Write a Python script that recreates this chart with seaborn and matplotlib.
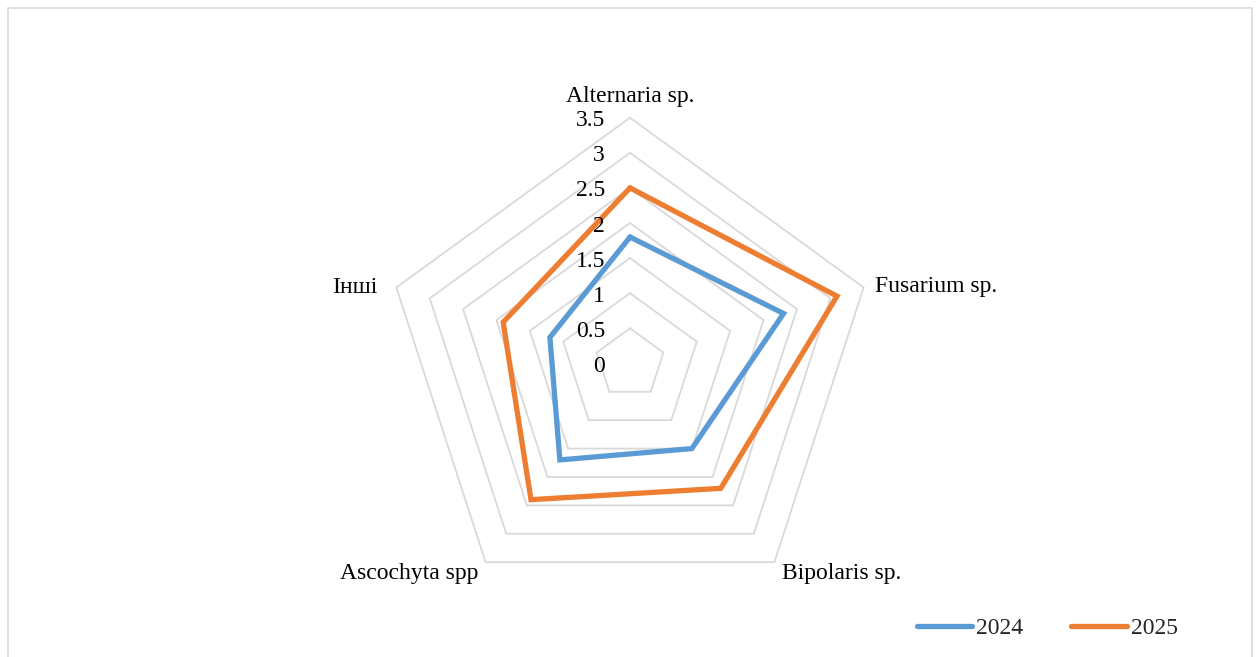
import numpy as np
import pandas as pd
import matplotlib
matplotlib.use("Agg")
import matplotlib.pyplot as plt
import matplotlib.patches as mpatches
import seaborn as sns

# data
categories = ["Alternaria sp.", "Fusarium sp.", "Bipolaris sp.", "Ascochyta spp", "Інші"]
values_2024 = [1.8, 2.3, 1.5, 1.7, 1.2]
values_2025 = [2.5, 3.1, 2.2, 2.4, 1.9]
years = ["2024", "2025"]
r_ticks = [0, 0.5, 1, 1.5, 2, 2.5, 3, 3.5]
r_tick_labels = ["0", "0.5", "1", "1.5", "2", "2.5", "3", "3.5"]

sns.set_style("white")
plt.rcParams["font.family"] = ["Liberation Serif", "DejaVu Serif"]

n = len(categories)
angles = [i * 2 * np.pi / n for i in range(n)]

# long form table, first point repeated to close each polygon
rows = []
for year, vals in zip(years, [values_2024, values_2025]):
    for a, v in zip(angles + [2 * np.pi], vals + [vals[0]]):
        rows.append({"angle": a, "value": v, "year": year})
df = pd.DataFrame(rows)

fig = plt.figure(figsize=(12.56, 6.57), dpi=100)
ax = fig.add_axes([0.306, 0.0729, 0.3912, 0.748], projection="polar")
ax.set_theta_offset(np.pi / 2)
ax.set_theta_direction(-1)
ax.set_ylim(0, 3.5)
ax.grid(False)
ax.set_xticks([])
ax.set_yticks([])
ax.spines["polar"].set_visible(False)
ax.patch.set_alpha(0)

# pentagon grid
for r in r_ticks[1:]:
    ax.plot(angles + [angles[0]], [r] * (n + 1), color="#D9D9D9",
            linewidth=1.3, clip_on=False, zorder=1)

palette = {"2024": "#5B9BD5", "2025": "#ED7D31"}
sns.lineplot(data=df, x="angle", y="value", hue="year", palette=palette,
             sort=False, linewidth=3.8, ax=ax, clip_on=False, zorder=3,
             estimator=None)
for line in ax.lines:
    line.set_solid_joinstyle("miter")

ax.set_xlabel("")
ax.set_ylabel("")

px = 72 / 100  # pixels -> points
fs = 17

# radial labels along the top spoke
for r, lab in zip(r_ticks, r_tick_labels):
    ax.annotate(lab, xy=(0, r), xytext=(-25 * px, -3 * px), textcoords="offset points",
                ha="right", va="center", fontsize=fs, color="#000000")

# category labels
label_pos = [
    ((0, 16), "center", "baseline"),
    ((11, -5), "left", "baseline"),
    ((8, -17), "left", "baseline"),
    ((-7, -17), "right", "baseline"),
    ((-19, -6), "right", "baseline"),
]
for a, cat, (off, ha, va) in zip(angles, categories, label_pos):
    ax.annotate(cat, xy=(a, 3.5), xytext=(off[0] * px, off[1] * px),
                textcoords="offset points", ha=ha, va=va, fontsize=fs,
                color="#000000")

# legend
handles, labels = ax.get_legend_handles_labels()
if ax.get_legend() is not None:
    ax.get_legend().remove()
for h in handles:
    h.set_linewidth(3.8)
    h.set_solid_capstyle("round")
fig.legend(handles, labels, loc="center left", bbox_to_anchor=(0.7299, 0.0437),
           ncol=2, frameon=False, fontsize=fs, handlelength=2.36,
           handletextpad=0.17, columnspacing=2.0, borderpad=0, borderaxespad=0)

# light border around the chart area
fig.patches.append(mpatches.Rectangle((0.0064, -0.02), 0.9904, 1.0078,
                                      transform=fig.transFigure, fill=False,
                                      edgecolor="#D9D9D9", linewidth=1.2))

fig.savefig("out.png", dpi=100)
